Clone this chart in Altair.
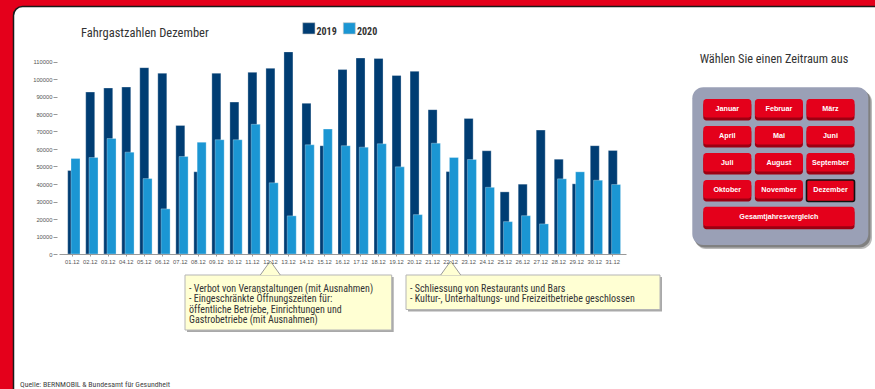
import altair as alt
import pandas as pd

# ---------------------------------------------------------------- data
days = ["01.12", "02.12", "03.12", "04.12", "05.12", "06.12", "07.12", "08.12",
        "09.12", "10.12", "11.12", "12.12", "13.12", "14.12", "15.12", "16.12",
        "17.12", "18.12", "19.12", "20.12", "21.12", "22.12", "23.12", "24.12",
        "25.12", "26.12", "27.12", "28.12", "29.12", "30.12", "31.12"]

pax_2019 = [47700, 92550, 94850, 95400, 106500, 103300, 73500, 47000,
            103300, 86800, 103800, 106100, 115500, 86100, 61900, 105400,
            112000, 111700, 102000, 104400, 82500, 47100, 77500, 59000,
            35500, 39900, 70800, 54200, 40100, 61900, 59200]

pax_2020 = [54600, 55150, 66000, 58200, 43100, 25800, 55700, 63900,
            65300, 65300, 74100, 40700, 21800, 62400, 71400, 61900,
            61050, 63000, 49800, 22500, 63300, 55150, 54000, 38100,
            18500, 21900, 17200, 42950, 46950, 42150, 39700]

years = ["2019", "2020"]
y_ticks = [0, 10000, 20000, 30000, 40000, 50000, 60000, 70000, 80000,
           90000, 100000, 110000]

months = ["Januar", "Februar", "März", "April", "Mai", "Juni", "Juli",
          "August", "September", "Oktober", "November", "Dezember"]
overview_label = "Gesamtjahresvergleich"
selected_month = "Dezember"

note_1 = ["- Verbot von Veranstaltungen (mit Ausnahmen)",
          "- Eingeschränkte Öffnungszeiten für:",
          "öffentliche Betriebe, Einrichtungen und",
          "Gastrobetriebe (mit Ausnahmen)"]
note_2 = ["- Schliessung von Restaurants und Bars",
          "- Kultur-, Unterhaltungs- und Freizeitbetriebe geschlossen"]

# ---------------------------------------------------------------- styling
C2019 = "#003d73"
C2020 = "#1b96d3"
RED = "#e4001b"
RED_DARK = "#9c0012"
PANEL_GREY = "#9aa0b6"
NOTE_FILL = "#ffffd3"
COND = "Roboto Condensed, Liberation Sans Narrow, DejaVu Sans Condensed, Roboto, sans-serif"
SANS = "Liberation Sans, Arial, sans-serif"

# the plot area sits at (X0, Y0) inside the 875 x 389 page
X0, Y0 = 59, 44
W, H = 567, 210

one = pd.DataFrame({"k": [0]})


def rect(x0, y0, x1, y1, **kw):
    return alt.Chart(one).mark_rect(**kw).encode(
        x=alt.value(x0 - X0), x2=alt.value(x1 - X0),
        y=alt.value(y0 - Y0), y2=alt.value(y1 - Y0))


def label(x, y, s, **kw):
    return alt.Chart(one).mark_text(text=s, **kw).encode(
        x=alt.value(x - X0), y=alt.value(y - Y0))


# ---------------------------------------------------------------- page frame
page = rect(13.5, 6.5, 900, 420, fill="white", stroke="#1a1a1a",
            strokeWidth=1.5, cornerRadius=9)

title = label(81, 32.7, "Fahrgastzahlen Dezember", font=COND, fontSize=12.5,
              color="#333333", align="left")
footer = label(20, 385, "Quelle: BERNMOBIL & Bundesamt für Gesundheit",
               font=COND, fontSize=7.8, color="#444444", align="left")

legend = [
    rect(302.7, 22.7, 315, 34, fill=C2019, stroke="#c8c8c8", strokeWidth=0.6),
    label(316.5, 32.3, years[0], font=COND, fontSize=10, fontWeight="bold",
          color="#333333", align="left"),
    rect(343.3, 22.7, 355.3, 34, fill=C2020, stroke="#c8c8c8", strokeWidth=0.6),
    label(357, 32.3, years[1], font=COND, fontSize=10, fontWeight="bold",
          color="#333333", align="left"),
]

# ---------------------------------------------------------------- bars
df = pd.DataFrame({"Tag": days, "y2019": pax_2019, "y2020": pax_2020})
xs = alt.Scale(domain=days, paddingInner=0, paddingOuter=0.233)
ys = alt.Scale(domain=[0, 120000], nice=False)

x_axis = alt.Axis(labelAngle=0, labelFont=SANS, labelFontSize=5.8,
                  labelColor="#555555", tickSize=2, tickColor="#999999",
                  domainColor="#999999", labelPadding=2, zindex=1,
                  labelOverlap=False)
y_axis = alt.Axis(values=y_ticks, format="d", labelFont=SANS,
                  labelFontSize=5.8, labelColor="#555555", tickSize=4,
                  tickColor="#999999", domain=False, grid=False,
                  offset=2, labelPadding=1, zindex=1,
                  labelOverlap=False, labelBound=False)

bars_2019 = alt.Chart(df).mark_bar(
    width=9, color=C2019, stroke="white", strokeWidth=0.5, strokeOpacity=0.6
).encode(
    x=alt.X("Tag:N", scale=xs, sort=days, title=None, axis=x_axis),
    y=alt.Y("y2019:Q", scale=ys, title=None, axis=y_axis),
)
bars_2020 = alt.Chart(df).mark_bar(
    width=9, xOffset=3.3, color=C2020, stroke="white", strokeWidth=0.5,
    strokeOpacity=0.6
).encode(
    x=alt.X("Tag:N", scale=xs, sort=days, title=None, axis=x_axis),
    y=alt.Y("y2020:Q", scale=ys, title=None, axis=y_axis),
)
bars = alt.layer(bars_2019, bars_2020)

# ---------------------------------------------------------------- notes
tri = "M-1,0.7L0,-0.7L1,0.7"


def note(x0, x1, y1, apex_x, lines):
    return [
        rect(x0 + 2, 275 + 2, x1 + 2, y1 + 2, fill="#a9a9a9"),
        rect(x0, 275, x1, y1, fill=NOTE_FILL, stroke="#b5b5b5", strokeWidth=1),
        alt.Chart(one).mark_point(shape=tri, size=400, filled=True,
                                  fill=NOTE_FILL, stroke="#9a9a9a",
                                  strokeWidth=1, opacity=1).encode(
            x=alt.value(apex_x - X0), y=alt.value(268 - Y0)),
        label(x0 + 4, 289, lines, font=COND, fontSize=10, lineHeight=10.4,
              color="#333333", align="left"),
    ]


notes = note(185, 391.7, 330, 270.3, note_1) + note(406, 660, 309.5, 450.7, note_2)

# ---------------------------------------------------------------- period selector
selector_title = label(774, 59.3, "Wählen Sie einen Zeitraum aus", font=COND,
                       fontSize=12.3, color="#333333", align="center")
panel = [
    rect(695, 91, 872, 249, fill="#3a3a3a", opacity=0.35, cornerRadius=11),
    rect(694, 89.5, 870.5, 247.5, fill="#3a3a3a", opacity=0.45, cornerRadius=11),
    rect(692.3, 87.3, 868.3, 245, fill=PANEL_GREY, cornerRadius=11),
]

btn_left = 703.3
btn_top = 99.0
btn_w, btn_h = 48.0, 21.5
col_step, row_step = 51.6, 27.0

rows = []
for i, m in enumerate(months):
    c, r = i % 3, i // 3
    x0 = btn_left + c * col_step
    y0 = btn_top + r * row_step
    rows.append({"label": m, "x0": x0, "x1": x0 + btn_w, "y0": y0, "y1": y0 + btn_h})
y_wide = btn_top + 4 * row_step - 0.3
rows.append({"label": overview_label, "x0": btn_left, "x1": btn_left + 2 * col_step + btn_w,
             "y0": y_wide, "y1": y_wide + btn_h + 1})
btn = pd.DataFrame(rows)
btn["px0"] = btn["x0"] - X0
btn["px1"] = btn["x1"] - X0
btn["py0"] = btn["y0"] - Y0
btn["py1"] = btn["y1"] - Y0
btn["pface"] = btn["py1"] - 3
btn["pbody"] = btn["py0"] + 3
btn["tx"] = (btn["px0"] + btn["px1"]) / 2
btn["ty"] = (btn["py0"] + btn["pface"]) / 2 + 0.5
btn["sel"] = btn["label"] == selected_month


def X_ID(f):
    return alt.X(f, scale=None, axis=None)


def Y_ID(f):
    return alt.Y(f, scale=None, axis=None)


btn_base = alt.Chart(btn)
btn_edge = btn_base.mark_rect(fill=RED_DARK, cornerRadius=3).encode(
    x=X_ID("px0:Q"), x2="px1:Q", y=Y_ID("pbody:Q"), y2="py1:Q")
btn_face = btn_base.mark_rect(fill=RED, cornerRadius=3).encode(
    x=X_ID("px0:Q"), x2="px1:Q", y=Y_ID("py0:Q"), y2="pface:Q")
btn_sel = btn_base.transform_filter("datum.sel").mark_rect(
    fill=RED, stroke="#111111", strokeWidth=1.6, cornerRadius=2).encode(
    x=X_ID("px0:Q"), x2="px1:Q", y=Y_ID("py0:Q"), y2="py1:Q")
btn_text = btn_base.mark_text(font=SANS, fontSize=7.2, fontWeight="bold",
                              color="white", align="center",
                              baseline="middle").encode(
    x=X_ID("tx:Q"), y=Y_ID("ty:Q"), text="label:N")

# ---------------------------------------------------------------- assemble
chart = alt.layer(
    page, title, *legend, bars, *notes, footer,
    selector_title, *panel, btn_edge, btn_face, btn_sel, btn_text,
).resolve_scale(
    x="independent", y="independent"
).properties(
    width=W, height=H,
    autosize=alt.AutoSizeParams(type="none"),
    padding={"left": X0, "top": Y0, "right": 875 - X0 - W, "bottom": 389 - Y0 - H},
).configure(
    background=RED,
).configure_view(
    stroke=None,
)

chart.save("out.html", embed_options={"renderer": "svg", "actions": False})
